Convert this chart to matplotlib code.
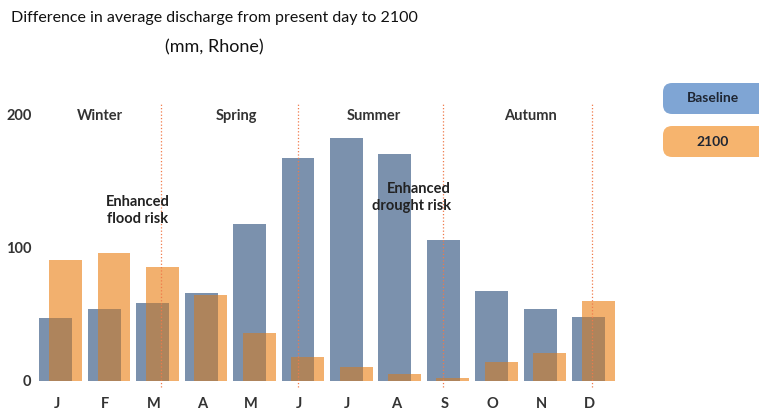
import matplotlib.pyplot as plt
from matplotlib.patches import FancyBboxPatch
import numpy as np

months = ["J", "F", "M", "A", "M", "J", "J", "A", "S", "O", "N", "D"]
baseline = [47, 54, 59, 66, 118, 168, 183, 171, 106, 68, 54, 48]
future = [91, 96, 86, 65, 36, 18, 10.5, 5, 2.5, 14, 21, 60]
seasons = ["Winter", "Spring", "Summer", "Autumn"]
season_x = [0.8, 3.63, 6.47, 9.71]
boundaries = [2.06, 4.9, 7.9, 10.97]

plt.rcParams['font.family'] = ['Lato', 'DejaVu Sans']

blue = "#7b91ad"
orange = "#f2b06e"
overlap = "#ae845c"
width = 0.68
shift = 0.1

fig = plt.figure(figsize=(7.59, 4.16), dpi=100)
ax = fig.add_axes([0.045, 0.0522, 0.775, 0.7194])

x = np.arange(len(months))
ax.bar(x - shift, baseline, width, color=blue, zorder=2)
ax.bar(x + shift, future, width, color=orange, zorder=2)
# darker area where the two bars overlap
ax.bar(x, np.minimum(baseline, future), width - 2 * shift, color=overlap, zorder=3)

for b in boundaries:
    ax.plot([b, b], [-4.5, 208], color="#f07a4a", lw=0.9, ls=":", zorder=4)

for s, sx in zip(seasons, season_x):
    ax.text(sx, 199, s, ha="center", va="center", fontsize=10.5,
            fontweight="bold", color="#333333")

ax.text(2.25, 128, "Enhanced\nflood risk", ha="right", va="center",
        fontsize=10.5, fontweight="bold", color="#222222", linespacing=1.25,
        multialignment="center", zorder=5)
ax.text(8.06, 138, "Enhanced\ndrought risk", ha="right", va="center",
        fontsize=10.5, fontweight="bold", color="#222222", linespacing=1.25,
        multialignment="right", zorder=5)

ax.set_xlim(-0.55, 11.6)
ax.set_ylim(-10, 215)
ax.set_xticks(x - 0.08)
ax.set_xticklabels(months, fontweight="bold", fontsize=10.5, color="#333333")
ax.set_yticks([0, 100, 200])
ax.set_yticklabels(["0", "100", "200"], fontweight="bold", fontsize=10.5, color="#333333")
ax.tick_params(length=0, pad=2)
for sp in ax.spines.values():
    sp.set_visible(False)

fig.text(214 / 759, 1 - 18 / 416, "Difference in average discharge from present day to 2100",
         ha="center", va="center", fontsize=11.5, color="#111111")
fig.text(214 / 759, 1 - 47 / 416, "(mm, Rhone)",
         ha="center", va="center", fontsize=13, color="#111111")

# legend boxes
for label, col, ytop in [("Baseline", "#7fa5d4", 83), ("2100", "#f6b46e", 126)]:
    box = FancyBboxPatch((663 / 759, 1 - (ytop + 31) / 416), 120 / 759, 31 / 416,
                         boxstyle="round,pad=0,rounding_size=0.012",
                         transform=fig.transFigure, facecolor=col, edgecolor="none",
                         mutation_aspect=759 / 416)
    fig.patches.append(box)
    fig.text(713 / 759, 1 - (ytop + 15.5) / 416, label, ha="center", va="center",
             fontsize=10, fontweight="bold", color="#1f2633")

fig.savefig("out.png", dpi=100)
